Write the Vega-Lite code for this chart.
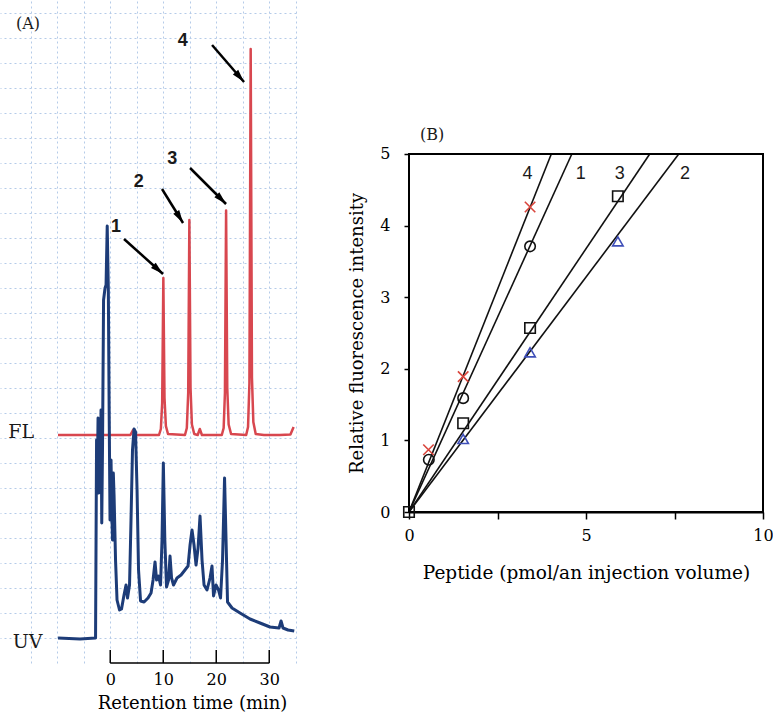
{
  "$schema": "https://vega.github.io/schema/vega-lite/v6.json",
  "padding": 0,
  "background": "white",
  "config": {
    "font": "DejaVu Serif",
    "view": {"stroke": null},
    "axis": {"grid": false, "labelFont": "DejaVu Serif", "titleFont": "DejaVu Serif", "labelColor": "black", "titleColor": "black", "titleFontWeight": "normal", "domainColor": "black", "tickColor": "black"}
  },
  "datasets": {
    "fl": [
      {"t": -9.85, "y": 45.6}, {"t": -5, "y": 45.6}, {"t": 0, "y": 45.6}, {"t": 3.8, "y": 45.6}, {"t": 4.3, "y": 46.6}, {"t": 4.8, "y": 45.6},
      {"t": 9.2, "y": 45.6}, {"t": 9.55, "y": 46.8}, {"t": 9.8, "y": 52}, {"t": 10.02, "y": 77.0}, {"t": 10.24, "y": 53}, {"t": 10.5, "y": 47.4}, {"t": 10.9, "y": 45.8},
      {"t": 14.1, "y": 45.6}, {"t": 14.45, "y": 47}, {"t": 14.71, "y": 54}, {"t": 14.93, "y": 88.6}, {"t": 15.15, "y": 55}, {"t": 15.41, "y": 47.7}, {"t": 15.85, "y": 45.8},
      {"t": 16.5, "y": 45.6}, {"t": 16.9, "y": 46.8}, {"t": 17.3, "y": 45.6},
      {"t": 21.05, "y": 45.6}, {"t": 21.4, "y": 47}, {"t": 21.64, "y": 54}, {"t": 21.86, "y": 90.5}, {"t": 22.08, "y": 55}, {"t": 22.34, "y": 47.7}, {"t": 22.8, "y": 45.8},
      {"t": 25.65, "y": 45.6}, {"t": 26.0, "y": 47.2}, {"t": 26.26, "y": 56}, {"t": 26.5, "y": 122.8}, {"t": 26.74, "y": 57}, {"t": 27.0, "y": 48.2}, {"t": 27.45, "y": 45.8},
      {"t": 29, "y": 45.6}, {"t": 32, "y": 45.6}, {"t": 34.0, "y": 45.7}, {"t": 34.6, "y": 47.2}
    ],
    "uv": [
      {"t": -9.85, "y": 5.0}, {"t": -5.7, "y": 4.8}, {"t": -2.77, "y": 5.0}, {"t": -2.58, "y": 44.6}, {"t": -2.45, "y": 36}, {"t": -2.3, "y": 49}, {"t": -2.15, "y": 34}, {"t": -2.0, "y": 46},
      {"t": -1.87, "y": 37}, {"t": -1.74, "y": 50.6}, {"t": -1.6, "y": 28}, {"t": -1.45, "y": 44}, {"t": -1.26, "y": 72.6}, {"t": -0.98, "y": 75}, {"t": -0.79, "y": 75.6}, {"t": -0.57, "y": 87.4},
      {"t": -0.36, "y": 74.6}, {"t": -0.19, "y": 48.6}, {"t": -0.04, "y": 28.6}, {"t": 0.15, "y": 40.6}, {"t": 0.3, "y": 30}, {"t": 0.43, "y": 24.6}, {"t": 0.58, "y": 38}, {"t": 0.72, "y": 33.6},
      {"t": 1.0, "y": 20.6}, {"t": 1.28, "y": 12.6}, {"t": 1.75, "y": 10.6}, {"t": 2.13, "y": 10.8}, {"t": 2.6, "y": 13.6}, {"t": 2.98, "y": 15.6},
      {"t": 3.26, "y": 13}, {"t": 3.64, "y": 15.6}, {"t": 3.92, "y": 28.6}, {"t": 4.2, "y": 42.6}, {"t": 4.49, "y": 46.8}, {"t": 4.77, "y": 46.2},
      {"t": 5.06, "y": 34.6}, {"t": 5.34, "y": 18.6}, {"t": 5.72, "y": 12.4}, {"t": 6.38, "y": 12.2}, {"t": 7.13, "y": 13}, {"t": 7.7, "y": 14},
      {"t": 8.08, "y": 16.6}, {"t": 8.45, "y": 20.2}, {"t": 8.74, "y": 16.6}, {"t": 9.11, "y": 17.4}, {"t": 9.49, "y": 15.6}, {"t": 9.77, "y": 24.6},
      {"t": 10.02, "y": 40}, {"t": 10.3, "y": 24.6}, {"t": 10.62, "y": 15.2}, {"t": 11.0, "y": 16.6}, {"t": 11.28, "y": 21.4}, {"t": 11.57, "y": 17},
      {"t": 11.94, "y": 15.6}, {"t": 12.6, "y": 17}, {"t": 13.36, "y": 17.6}, {"t": 14.1, "y": 18.6}, {"t": 14.68, "y": 19.4}, {"t": 15.06, "y": 23.6},
      {"t": 15.43, "y": 26.6}, {"t": 15.81, "y": 23.6}, {"t": 16.19, "y": 19.6}, {"t": 16.57, "y": 23}, {"t": 16.94, "y": 29.4}, {"t": 17.32, "y": 20.6},
      {"t": 17.7, "y": 15.6}, {"t": 18.26, "y": 14.6}, {"t": 18.83, "y": 17}, {"t": 19.2, "y": 19.4}, {"t": 19.49, "y": 13.4}, {"t": 19.96, "y": 15.6},
      {"t": 20.43, "y": 14.6}, {"t": 20.81, "y": 13}, {"t": 21.19, "y": 20.6}, {"t": 21.57, "y": 37}, {"t": 21.85, "y": 24.6}, {"t": 22.13, "y": 12.2},
      {"t": 22.98, "y": 11}, {"t": 24.49, "y": 10}, {"t": 26.38, "y": 8.8}, {"t": 28.26, "y": 8}, {"t": 30.15, "y": 7.2}, {"t": 31.85, "y": 7},
      {"t": 32.23, "y": 8.4}, {"t": 32.6, "y": 7}, {"t": 33.55, "y": 6.6}, {"t": 34.72, "y": 6.4}
    ],
    "arrows": [
      {"peak": "1", "t1": 2.6, "y1": 84.8, "t2": 9.96, "y2": 77.8},
      {"peak": "2", "t1": 9.77, "y1": 94.8, "t2": 13.74, "y2": 88.0},
      {"peak": "3", "t1": 15.06, "y1": 99.0, "t2": 21.85, "y2": 91.8},
      {"peak": "4", "t1": 19.21, "y1": 123.6, "t2": 25.25, "y2": 116.2}
    ],
    "peakLabels": [
      {"label": "1", "t": 1.1, "y": 87.2},
      {"label": "2", "t": 5.4, "y": 96.2},
      {"label": "3", "t": 11.7, "y": 100.8},
      {"label": "4", "t": 13.7, "y": 124.4}
    ],
    "traceLabels": [
      {"label": "FL", "t": -16.8, "y": 46.2},
      {"label": "UV", "t": -15.6, "y": 4.2}
    ],
    "axisTicks": [{"tick": 0}, {"tick": 10}, {"tick": 20}, {"tick": 30}],
    "points": [
      {"series": "4", "x": 0.55, "y": 0.87}, {"series": "4", "x": 1.53, "y": 1.89}, {"series": "4", "x": 3.42, "y": 4.26},
      {"series": "1", "x": 0.56, "y": 0.73}, {"series": "1", "x": 1.53, "y": 1.59}, {"series": "1", "x": 3.42, "y": 3.71},
      {"series": "3", "x": 0, "y": 0}, {"series": "3", "x": 1.53, "y": 1.24}, {"series": "3", "x": 3.42, "y": 2.57}, {"series": "3", "x": 5.9, "y": 4.41},
      {"series": "2", "x": 1.53, "y": 1.02}, {"series": "2", "x": 3.42, "y": 2.23}, {"series": "2", "x": 5.9, "y": 3.78}
    ],
    "lines": [
      {"series": "4", "x": 0, "y": 0}, {"series": "4", "x": 4.02, "y": 5},
      {"series": "1", "x": 0, "y": 0}, {"series": "1", "x": 4.6, "y": 5},
      {"series": "3", "x": 0, "y": 0}, {"series": "3", "x": 6.8, "y": 5},
      {"series": "2", "x": 0, "y": 0}, {"series": "2", "x": 7.62, "y": 5}
    ],
    "lineLabels": [
      {"label": "4", "x": 3.35, "y": 4.72},
      {"label": "1", "x": 4.85, "y": 4.72},
      {"label": "3", "x": 5.95, "y": 4.72},
      {"label": "2", "x": 7.8, "y": 4.72}
    ]
  },
  "spacing": 113,
  "bounds": "flush",
  "hconcat": [
    {
      "width": 296,
      "height": 663,
      "layer": [
        {
          "data": {"values": [{}]},
          "mark": {"type": "point", "opacity": 0},
          "encoding": {
            "x": {"datum": 0, "type": "quantitative", "scale": {"domain": [-20.8, 35.05], "nice": false, "zero": false},
              "axis": {"orient": "top", "values": [-15, -10, -5, 0, 5, 10, 15, 20, 25, 30, 35], "grid": true, "gridColor": "#b5cbe8", "gridDash": [2, 3], "gridWidth": 1, "labels": false, "ticks": false, "domain": false, "title": null}},
            "y": {"datum": 0, "type": "quantitative", "scale": {"domain": [0, 132.6], "nice": false, "zero": false},
              "axis": {"orient": "right", "values": [5, 10, 15, 20, 25, 30, 35, 40, 45, 50, 55, 60, 65, 70, 75, 80, 85, 90, 95, 100, 105, 110, 115, 120, 125, 130], "grid": true, "gridColor": "#b5cbe8", "gridDash": [2, 3], "gridWidth": 1, "labels": false, "ticks": false, "domain": false, "title": null}}
          }
        },
        {
          "data": {"name": "fl"},
          "mark": {"type": "line", "color": "#d8474f", "strokeWidth": 2.5, "strokeJoin": "round"},
          "encoding": {
            "x": {"field": "t", "type": "quantitative", "scale": {"domain": [-20.8, 35.05], "nice": false, "zero": false},
              "axis": {"orient": "bottom", "values": [0, 10, 20, 30], "ticks": false, "domain": false, "labelFontSize": 16, "labelPadding": 8, "labelFlush": false, "title": "Retention time (min)", "titleFontSize": 18, "titlePadding": 7, "titleX": 192}},
            "y": {"field": "y", "type": "quantitative", "scale": {"domain": [0, 132.6], "nice": false, "zero": false}, "axis": null}
          }
        },
        {
          "data": {"name": "uv"},
          "mark": {"type": "line", "color": "#1d3c78", "strokeWidth": 3, "strokeJoin": "round"},
          "encoding": {
            "x": {"field": "t", "type": "quantitative", "axis": null},
            "y": {"field": "y", "type": "quantitative", "axis": null}
          }
        },
        {
          "data": {"values": [{}]},
          "mark": {"type": "rule", "color": "black", "strokeWidth": 1.5},
          "encoding": {
            "x": {"datum": 0, "type": "quantitative", "axis": null},
            "x2": {"datum": 30},
            "y": {"datum": 0, "type": "quantitative", "axis": null}
          }
        },
        {
          "data": {"name": "axisTicks"},
          "mark": {"type": "rule", "color": "black", "strokeWidth": 1.5},
          "encoding": {
            "x": {"field": "tick", "type": "quantitative", "axis": null},
            "y": {"datum": 0, "type": "quantitative", "axis": null},
            "y2": {"datum": 2.6}
          }
        },
        {
          "data": {"name": "arrows"},
          "mark": {"type": "rule", "color": "black", "strokeWidth": 2.5},
          "encoding": {
            "x": {"field": "t1", "type": "quantitative", "axis": null},
            "y": {"field": "y1", "type": "quantitative", "axis": null},
            "x2": {"field": "t2"},
            "y2": {"field": "y2"}
          }
        },
        {
          "data": {"name": "arrows"},
          "transform": [{"calculate": "atan2((datum.t2 - datum.t1) * 5.3, (datum.y2 - datum.y1) * 5) * 180 / PI", "as": "ang"}],
          "mark": {"type": "point", "shape": "M0,0L0.27,1L-0.27,1Z", "filled": true, "color": "black", "opacity": 1, "size": 676, "strokeWidth": 0},
          "encoding": {
            "x": {"field": "t2", "type": "quantitative", "axis": null},
            "y": {"field": "y2", "type": "quantitative", "axis": null},
            "angle": {"field": "ang", "type": "quantitative", "scale": null}
          }
        },
        {
          "data": {"name": "peakLabels"},
          "mark": {"type": "text", "font": "Liberation Sans", "fontSize": 18, "fontWeight": "bold", "align": "center", "baseline": "middle", "color": "#1a1a1a"},
          "encoding": {
            "x": {"field": "t", "type": "quantitative", "axis": null},
            "y": {"field": "y", "type": "quantitative", "axis": null},
            "text": {"field": "label"}
          }
        },
        {
          "data": {"name": "traceLabels"},
          "mark": {"type": "text", "font": "DejaVu Serif", "fontSize": 19, "align": "center", "baseline": "middle", "color": "#1a1a1a"},
          "encoding": {
            "x": {"field": "t", "type": "quantitative", "axis": null},
            "y": {"field": "y", "type": "quantitative", "axis": null},
            "text": {"field": "label"}
          }
        },
        {
          "data": {"values": [{}]},
          "mark": {"type": "text", "font": "DejaVu Serif", "fontSize": 16, "align": "center", "baseline": "middle", "color": "#1a1a1a", "text": "(A)"},
          "encoding": {
            "x": {"datum": -15.5, "type": "quantitative", "axis": null},
            "y": {"datum": 127.8, "type": "quantitative", "axis": null}
          }
        }
      ],
      "resolve": {"axis": {"x": "independent", "y": "independent"}}
    },
    {
      "width": 354,
      "height": 512,
      "layer": [
        {
          "data": {"name": "lines"},
          "mark": {"type": "line", "color": "#111111", "strokeWidth": 1.6},
          "encoding": {
            "x": {"field": "x", "type": "quantitative", "scale": {"domain": [0, 10], "nice": false, "zero": false},
              "axis": {"orient": "bottom", "values": [0, 2.5, 5, 7.5, 10], "labelExpr": "datum.value % 5 === 0 ? datum.label : ''", "domain": true, "domainWidth": 2, "ticks": true, "tickSize": 7, "tickWidth": 1.5, "labelFontSize": 16, "labelPadding": 8, "labelFlush": false, "title": "Peptide (pmol/an injection volume)", "titleFontSize": 18.5, "titlePadding": 20}},
            "y": {"field": "y", "type": "quantitative", "scale": {"domain": [0, 7.15], "nice": false, "zero": false},
              "axis": {"orient": "left", "values": [0, 1, 2, 3, 4, 5], "domain": false, "ticks": true, "tickSize": 5, "tickWidth": 1.5, "labelFontSize": 16, "labelPadding": 14, "title": "Relative fluorescence intensity", "titleFontSize": 18, "titlePadding": 13, "titleY": 333}},
            "detail": {"field": "series"}
          }
        },
        {
          "data": {"values": [{}]},
          "mark": {"type": "rect", "filled": false, "color": "black", "strokeWidth": 2},
          "encoding": {
            "x": {"datum": 0, "type": "quantitative", "axis": null},
            "x2": {"datum": 10},
            "y": {"datum": 0, "type": "quantitative", "axis": null},
            "y2": {"datum": 5}
          }
        },
        {
          "data": {"name": "points"},
          "mark": {"type": "point", "filled": false, "strokeWidth": 1.6, "size": 110, "opacity": 1},
          "encoding": {
            "x": {"field": "x", "type": "quantitative", "axis": null},
            "y": {"field": "y", "type": "quantitative", "axis": null},
            "shape": {"field": "series", "type": "nominal", "legend": null, "scale": {"domain": ["4", "1", "3", "2"], "range": ["M-1,-1L1,1M-1,1L1,-1", "circle", "square", "triangle-up"]}},
            "color": {"field": "series", "type": "nominal", "legend": null, "scale": {"domain": ["4", "1", "3", "2"], "range": ["#d9453c", "#111111", "#111111", "#3f4fb8"]}}
          }
        },
        {
          "data": {"name": "lineLabels"},
          "mark": {"type": "text", "font": "Liberation Sans", "fontSize": 18, "align": "center", "baseline": "middle", "color": "#1a1a1a"},
          "encoding": {
            "x": {"field": "x", "type": "quantitative", "axis": null},
            "y": {"field": "y", "type": "quantitative", "axis": null},
            "text": {"field": "label"}
          }
        },
        {
          "data": {"values": [{}]},
          "mark": {"type": "text", "font": "DejaVu Serif", "fontSize": 16, "align": "center", "baseline": "middle", "color": "#1a1a1a", "text": "(B)"},
          "encoding": {
            "x": {"datum": 0.65, "type": "quantitative", "axis": null},
            "y": {"datum": 5.27, "type": "quantitative", "axis": null}
          }
        }
      ],
      "resolve": {"axis": {"x": "independent", "y": "independent"}}
    }
  ]
}
